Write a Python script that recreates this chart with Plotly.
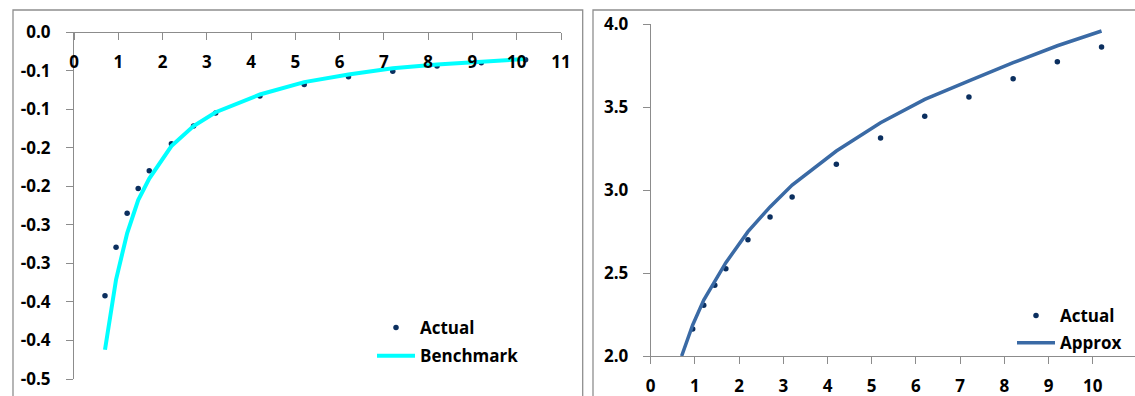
import plotly.graph_objects as go

# ---------------- data ----------------
x_vals = [0.7, 0.95, 1.2, 1.45, 1.7, 2.2, 2.7, 3.2, 4.2, 5.2, 6.2, 7.2, 8.2, 9.2, 10.2]

left_actual = [-0.342, -0.279, -0.235, -0.203, -0.180, -0.145, -0.122, -0.105,
               -0.083, -0.068, -0.058, -0.051, -0.044, -0.040, -0.036]
left_benchmark = [-0.412, -0.321, -0.261, -0.218, -0.190, -0.148, -0.122, -0.104,
                  -0.081, -0.065, -0.055, -0.047, -0.042, -0.038, -0.035]

right_actual_x = [0.95, 1.2, 1.45, 1.7, 2.2, 2.7, 3.2, 4.2, 5.2, 6.2, 7.2, 8.2, 9.2, 10.2]
right_actual = [2.163, 2.305, 2.426, 2.526, 2.700, 2.837, 2.958, 3.155,
                3.313, 3.444, 3.560, 3.670, 3.773, 3.861]
right_approx = [2.000, 2.187, 2.337, 2.450, 2.562, 2.749, 2.898, 3.030,
                3.235, 3.405, 3.546, 3.657, 3.767, 3.869, 3.958]

left_yticks = [0.0, -0.05, -0.10, -0.15, -0.20, -0.25, -0.30, -0.35, -0.40, -0.45]
left_yticklabels = ["0.0", "-0.1", "-0.1", "-0.2", "-0.2", "-0.3", "-0.3", "-0.4", "-0.4", "-0.5"]
x_ticks = list(range(0, 12))
x_ticklabels = [str(v) for v in x_ticks]
right_yticks = [2.0, 2.5, 3.0, 3.5, 4.0]
right_yticklabels = ["2.0", "2.5", "3.0", "3.5", "4.0"]

# ---------------- style ----------------
W, H = 1135, 396
FONT = dict(family="'Open Sans', Lato, sans-serif", size=17, color="#000000", weight=700)
AXC = "#8c8c8c"
NAVY = "#0B2F5F"
CYAN = "#00FFFF"
STEEL = "#3A6AA5"

def px_x(p):
    return p / W

def px_y(p):
    return 1 - p / H

fig = go.Figure()

fig.add_trace(go.Scatter(x=x_vals, y=left_actual, mode="markers", name="Actual",
                         marker=dict(color=NAVY, size=5.5), xaxis="x", yaxis="y",
                         legend="legend", legendgroup="a", cliponaxis=False))
fig.add_trace(go.Scatter(x=x_vals, y=left_benchmark, mode="lines", name="Benchmark",
                         line=dict(color=CYAN, width=4), xaxis="x", yaxis="y",
                         legend="legend", legendgroup="b"))

fig.add_trace(go.Scatter(x=right_actual_x, y=right_actual, mode="markers", name="Actual",
                         marker=dict(color=NAVY, size=5.5), xaxis="x2", yaxis="y2",
                         legend="legend2", legendgroup="c"))
fig.add_trace(go.Scatter(x=x_vals, y=right_approx, mode="lines", name="Approx",
                         line=dict(color=STEEL, width=3.5), xaxis="x2", yaxis="y2",
                         legend="legend2", legendgroup="d"))

common_axis = dict(showgrid=False, zeroline=False, showline=True, linecolor=AXC,
                   linewidth=1, tickcolor=AXC, tickwidth=1, ticklen=7,
                   tickfont=FONT, automargin=False, ticks="outside")

left_top = px_y(32)

fig.update_layout(
    width=W, height=H,
    margin=dict(l=0, r=0, t=0, b=0),
    paper_bgcolor="white", plot_bgcolor="white",
    font=FONT,
    template="none",
    xaxis=dict(common_axis, domain=[px_x(74), px_x(561)], range=[0, 11],
               tickvals=x_ticks, ticktext=x_ticklabels, side="bottom",
               anchor="free", position=left_top, ticklabelstandoff=8),
    yaxis=dict(common_axis, domain=[px_y(379), left_top], range=[-0.45, 0],
               tickvals=left_yticks, ticktext=left_yticklabels,
               anchor="x", ticklabelstandoff=12),
    xaxis2=dict(common_axis, domain=[px_x(650.7), 1.0], range=[0, (W - 650.7) / 44.2],
                tickvals=x_ticks, ticktext=x_ticklabels,
                anchor="y2", ticklabelstandoff=8),
    yaxis2=dict(common_axis, domain=[px_y(356), px_y(24)], range=[2.0, 4.0],
                tickvals=right_yticks, ticktext=right_yticklabels,
                anchor="x2", ticklabelstandoff=11),
    legend=dict(x=px_x(372), y=px_y(310), xanchor="left", yanchor="top",
                bgcolor="rgba(0,0,0,0)", font=FONT, tracegroupgap=3,
                traceorder="grouped", itemwidth=38),
    legend2=dict(x=px_x(1012), y=px_y(298), xanchor="left", yanchor="top",
                 bgcolor="rgba(0,0,0,0)", font=FONT, tracegroupgap=2,
                 traceorder="grouped", itemwidth=38),
    showlegend=True,
    shapes=[
        dict(type="rect", xref="paper", yref="paper", x0=px_x(13), x1=px_x(582.7),
             y0=-0.2, y1=px_y(10), line=dict(color="#8f8f8f", width=1.3)),
        dict(type="rect", xref="paper", yref="paper", x0=px_x(593), x1=1.2,
             y0=-0.2, y1=px_y(10), line=dict(color="#8f8f8f", width=1.3)),
    ],
)

fig.write_html("out.html")
